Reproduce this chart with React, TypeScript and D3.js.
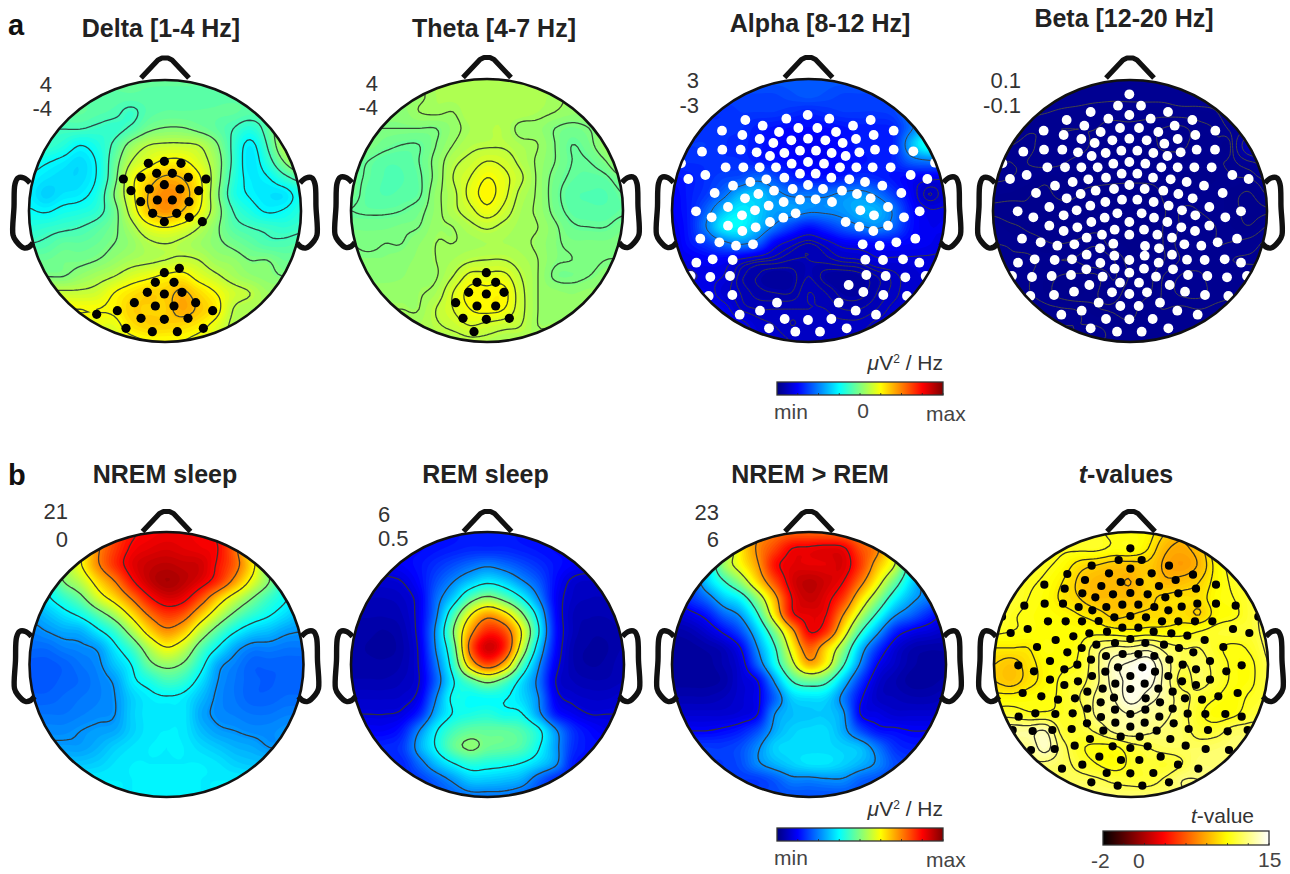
import React from "react";
import * as d3 from "d3";

// ---------- field values on a 17x17 scalp grid (percent of the colour range) ----------
const deltaField = [
[47,47,47,47,47,47,47,47,47,47,47,47,47,47,47,47,47],
[46.5,46.5,46.5,46.5,46.5,46.5,46.5,46.5,46.5,46.5,46.5,46.5,46.5,46.5,46.5,46.5,46.5],
[47,47,47,47,46,45,43,46,47,47,47,47,47,46,46,47,47],
[44,44,44,44,43,42.5,45,49,50.5,50.5,49,47,44,41,46,55,58],
[43,43,41,37.5,40,45,52,56,57,57,56,51,43,36,44,55,60],
[40,38,36,34,38,47,56,60,63,63,59,53,43,35,41,50,57],
[37,35,34,34,38,48,60,66,70,69,63,53,42,36,37,42,46],
[36,33,35,36,40,50,60,69,74,72,64,52,41,37,35,35,40],
[38,37,39,40,42,48,58,68,73,69,62,53,44,40,37,38,41],
[41,42,43,44,46,49,54,60,62,60,56,51,46,44,43,42,43],
[44,45,47,47,48,50,52,55,56,55,53,51,49,47,45,45,46],
[48,48,49,49,50,52,54,55,56,57,56,53,52,50,50,48,48],
[50,50,50,52,54,56,59,61,63,64,60,57,54,52,51,50,50],
[57,57,57,57,58,62,65,67,67,70,66,62,58,56,53,53,53],
[62,62,62,62,62,63,67,67,67,71,68,64,56,54,54,54,54],
[60,60,60,60,60,60,65,67,67,66,64,60,55,55,55,55,55],
[58,58,58,58,58,58,60,62,62,62,60,58,55,55,55,55,55],
];
const thetaField = [
[54,54,54,54,54,54,54,54,54,54,54,54,54,54,54,54,54],
[53,53,53,52,52.5,54,54.5,54.5,54.5,54.5,54.5,54.5,53.5,53,53,53,53],
[51,51,51,51,53,53.5,53,55,55,55,55,54,53,52,52,52,52],
[50,50,50,50,50,50,52,54,55,55,52,52,50,49,50,52,54],
[50,50,48.5,47.5,47.5,50,53,55,55.5,55.5,54,53,50,47.5,49,53,57],
[49,47.5,46,46,47.5,51,55,57,59,58,55,52.5,50,47.5,47.5,50,55],
[48.5,47,45.5,45.5,47,51,56,59,62,60,56.5,52.5,49,47,46.5,47,50],
[48.5,46.5,45.5,46,47,52,55,60,63,60,55,52.5,48.5,46,45.5,45.5,47.5],
[47.5,47,47,47.5,49,52,55,58,61,58,54,52.5,49,46.5,46,46,47],
[49,49,49,49.5,50,52.5,53,55,56.5,55,53.5,53,50.5,48,47.5,47.5,49],
[50,49.5,50,50,51.5,53,53,53.5,54,54,53.5,52.5,50.5,49.5,49.5,49.5,50],
[50.5,50.5,50.5,51,52,53,54,55.5,56,56,54.5,53,50.5,50,49.5,50,50],
[51,51,51,51.5,52.5,52.8,56,60,60,60,56,53,49.5,49.2,50,51,51],
[52.5,52.5,52.5,52.5,52.8,54,59,63,63,63,57,53,52,51.5,52,52,52],
[53,53,53,53,53,56,59,62,63,62,57,53,52,52,52,52,52],
[54,54,54,54,54,55.5,57,59,58,57,56,53,53,53,53,53,53],
[54,54,54,54,54,54,54,55,55,54,54,54,54,54,54,54,54],
];
const alphaField = [
[21,21,21,21,21,21,21,21,21,21,21,21,21,21,21,21,21],
[19,19,19,19,19,19,19,20,21,20,19,19,19,19,20,22,22],
[17,17,17,17,18,18,18,17,16,17,18,18,18,19,24,26,26],
[17,17,17,17,17,15,14,13,13,13,14,15,15,16,24,32,32],
[18,18,18,17,16,15,13,12,11,12,13,15,15,16,30,40,40],
[17,17,17,17,17,15,14,13,12,12,13,14,15,16,22,24,25],
[14,15,17,19,20,23,20,16,14,14,15,17,16,14,12,11,10],
[12,15,18,23,30,32,27,24,24,24,26,27,24,18,12,6,8],
[12,15,22,31,36,33,28,28,26,26,27,30,30,24,14,10,10],
[11,15,25,36,37,31,24,18,14,17,21,24,26,22,14,11,11],
[10,14,18,23,26,22,12,8,6,8,11,12,13,13,12,11,10],
[11,11,12,12,9,7,6,5,5,5.5,6.5,7,9,9,9,9,9],
[9,9,10,9.5,5.5,4,3,3.5,5,3.5,3,3.5,5,6.5,8,8.5,8.5],
[11,11,11,8,6,4.5,4,4,6,5,3.5,3.5,5,6.5,8,8,8],
[12,12,12,11,7,6,6,6,6,6,5,5,6,7.5,8,8,8],
[12,12,12,12,11,8,7,6,6.5,6.5,6.5,6.5,7.5,8,8,8,8],
[12,12,12,12,12,9,8,7,7,7,7,7,8,8,8,8,8],
];
const betaField = [
[1.9,1.9,1.9,1.9,1.9,1.9,1.9,1.9,1.9,1.9,1.9,1.9,1.9,1.9,1.9,1.9,1.9],
[1.9,1.9,1.9,1.9,1.9,1.9,1.88,1.85,1.85,1.85,1.85,1.9,1.9,1.9,1.9,1.9,1.9],
[1.9,1.9,1.85,1.81,1.76,1.72,1.66,1.66,1.68,1.68,1.68,1.7,1.72,1.78,2,2.1,2.1],
[1.8,1.8,1.64,1.62,1.6,1.6,1.6,1.55,1.55,1.5,1.38,1.35,1.5,1.62,1.9,2.4,2.6],
[1.6,1.6,1.56,1.66,1.68,1.66,1.56,1.5,1.5,1.48,1.36,1.36,1.5,1.58,1.82,6,8],
[1.6,1.6,1.6,1.66,1.62,1.55,1.5,1.5,1.5,1.5,1.5,1.5,1.52,1.58,1.7,2.4,3],
[1.62,1.6,1.55,1.45,1.5,1.45,1.45,1.45,1.48,1.5,1.5,1.5,1.45,1.5,1.58,1.62,1.9],
[1.5,1.48,1.42,1.35,1.45,1.4,1.35,1.3,1.18,1.15,1.45,1.5,1.55,1.55,1.45,1.38,1.6],
[1.35,1.3,1.38,1.3,1.3,1.35,1.35,1.25,1.15,1.18,1.38,1.62,1.6,1.55,1.45,1.35,1.38],
[1.58,1.45,1.38,1.35,1.3,1.3,1.35,1.3,1.25,1.2,1.42,1.62,1.65,1.6,1.5,1.42,1.62],
[1.6,1.58,1.5,1.42,1.4,1.45,1.55,1.3,1.22,1.15,1.42,1.68,1.7,1.6,1.62,1.7,1.85],
[1.7,1.62,1.65,1.55,1.6,1.62,1.8,1.62,1.3,1.25,1.4,1.62,1.68,1.62,1.8,1.82,1.82],
[1.7,1.65,1.62,1.5,1.38,1.35,1.35,1.62,1.38,1.3,1.62,1.82,1.85,1.65,1.62,1.68,1.7],
[1.7,1.7,1.62,1.5,1.3,1.22,1.38,1.5,1.3,1.35,1.65,1.85,1.88,1.7,1.65,1.6,1.6],
[1.7,1.7,1.7,1.65,1.62,1.58,1.42,1.38,1.3,1.55,1.6,1.55,1.6,1.55,1.5,1.5,1.5],
[1.6,1.6,1.6,1.6,1.6,1.6,1.6,1.55,1.45,1.55,1.55,1.55,1.55,1.55,1.55,1.55,1.55],
[1.6,1.6,1.6,1.6,1.6,1.6,1.6,1.6,1.6,1.6,1.6,1.6,1.6,1.6,1.6,1.6,1.6],
];
const nremField = [
[70,70,70,70,72,80,86,88,89,89,88,86,78,70,70,70,70],
[62,62,62,62,74,82,88,90,91,90,89,87,77,62,62,62,62],
[55,55,55,62,74,83,90,93,94,93,92,86,78,65,50,50,50],
[40,40,50,56,66,75,86,93,96,94,90,83,72,60,50,40,40],
[30,36,42,48,58,66,76,86,91,89,80,68,58,50,43,38,33],
[28,31,35,39,46,54,65,76,82,79,68,57,48,42,38,34,30],
[25,27,29,30,36,43,54,66,73,68,56,46,38,33,31,28,27],
[23,23,25,26,28,36,44,55,62,57,46,37,29,25,25,24,24],
[21,21,22,24,26,32,38,48,52,49,40,29,25,22,22,22,22],
[21,21,22,23,25,28,36,40,44,42,35,27,24,22,21.5,22,22],
[22,22,23,24,25,27,33,36,37,36,31,26,24,22,22,23,23],
[24,24,24,25,26,27,33,35.5,35.5,35.5,29,26,25,24,24,25,25],
[26,26,26,27,28,29,33,35.5,36,35.5,31,28,27,26,26,27,27],
[28,28,28,28,30,33,35,36,36,36,34,32,30,29,27,27,27],
[32,32,32,32,33,35,36,36,36,36,36,35,33,32,32,32,32],
[36,36,36,36,36,36,36,36.5,36.5,36.5,36,36,36,36,36,36,36],
[36,36,36,36,36,36,36,36.5,36.5,36.5,36,36,36,36,36,36,36],
];
const remField = [
[14,14,14,14,14,14,14,15,15,15,14,14,14,14,14,14,14],
[13,13,13,13,13,14,15,16,16,16,15,14,13,13,13,13,13],
[11,11,11,12,14,17,20,23,25,23,20,17,14,12,11,11,11],
[8,8,8,9,13,20,26,32,36,33,27,21,13,8,7,8,8],
[6,6,6,7,11,23,33,46,52,47,38,26,12,7,6,6,7],
[5,5,5,6,11,25,44,62,72,66,52,34,13,6,5,5,6],
[4,4,3.5,5,11,28,50,72,84,80,62,38,14,6,4,4,5],
[4,3.5,3,4.5,10,27,46,78,92,84,58,33,13,5,3.5,3.5,5],
[4,4,4,5,9.5,24,42,68,80,70,46,27,11,5,3.5,4,6],
[5,5,5,6,9,22,37,46,52,46,35,24,9,6,5,5,6],
[7,7,7,7.5,11,26,39,38,38.5,38,34,26,11,8,7,7,8],
[9,9,9,10,16,30,38,40,41,39,38,28,15,11,9,9,9],
[12,12,12,15,26,37,44,47,47,47,45,39,27,17,13,11,11],
[16,16,16,18,29,38,47,51,48,47,45,38,28,17,14,14,14],
[16,16,16,16,23,31,37,41,40,39,37,33,27,15,14,14,14],
[16,16,16,16,18,22,27,32,32,31,29,22,16,15,14,14,14],
[18,18,18,18,18,20,22,24,24,24,22,20,18,18,18,18,18],
];
const diffField = [
[62,62,62,62,66,72,76,78,78,78,77,74,68,62,62,62,62],
[50,50,50,50,64,74,81,88,89,90,89,80,74,60,50,50,50],
[35,35,35,52,62,72,86,90,90,90,91,82,69,58,40,40,40],
[20,20,32,42,52,66,80,91,94,92,88,76,62,48,34,25,25],
[12,17,23,32,38,52,70,88,93,90,82,66,52,38,29,24,18],
[8,10,14,22,28,42,64,86,90,88,73,56,41,28,22,16,11],
[4,5,8,13,20,33,50,70,88,83,64,44,29,16,11,9,7],
[3,3,4,6,12,27,42,62,78,67,52,32,18,9,5,4,4],
[3,3,3,5,9,22,38,55,70,62,44,26,12,7,4,3,3],
[3,3,3,4,8,12,28,43,48,45,32,18,8,5,3,3,4],
[5,5,5,6,8,11,22,33,35,34,25,13,7,6,5,5,6],
[8,8,8,8,9,12,27,31,32,32,28,12,10,8,8,8,8],
[12,12,12,13,15,20,29,33,34,34,29,20,14,13,12,12,12],
[18,18,18,18,20,26,33,34,34,34,33,31,24,17,15,15,15],
[18,18,18,18,20,26,30,33,35,35,33,30,26,20,18,18,18],
[18,18,18,18,18,18,21,25,25,26,26,22,20,18,18,18,18],
[20,20,20,20,20,20,20,20,20,20,20,20,20,20,20,20,20],
];
const tField = [
[80,80,80,80,80,80,78,76,76,74,68,64,70,76,80,80,80],
[80,80,80,80,78,78,78,76,76,72,64,62,66,76,80,80,80],
[80,80,80,78,75,70,68,66,66,67,62,60,64,74,79,80,80],
[80,80,78,76,72,67,64,64,63,68,64,65,68,74,78,80,80],
[80,80,77,75,71,68,65,65,65,67,69,70,70,75,77,80,82],
[82,78,76,75,74,72,70,67,68,69,69,70,68,74,76,80,84],
[78,77,76,75,75,75,75,74,73,74,74,75,77,79,80,80,84],
[72,72,72,76,75,77,85,88,88,90,85,82,82,78,76,78,83],
[68,66,70,74,76,78,86,94,97,99,90,82,84,80,76,76,82],
[68,66,70,74,78,80,86,94,97,98,90,80,84,80,76,76,82],
[74,74,75,76,78,82,88,92,98,94,90,84,80,77,75,78,80],
[80,80,78,78,78,80,88,90,92,90,88,84,78,75,76,80,80],
[90,90,90,92,80,80,83,88,90,88,86,84,80,80,84,84,84],
[88,88,88,94,84,78,76,76,80,82,84,84,84,85,86,86,86],
[86,86,86,86,84,80,77,75,78,80,79,82,86,86,86,86,86],
[84,84,84,84,84,84,83,81,80,80,83,87,87,87,87,87,87],
[86,86,86,86,86,86,86,86,86,86,86,86,86,86,86,86,86],
];

// ---------- contour levels ----------
const deltaLevels = [37.5, 44, 50, 56, 62, 69];
const thetaLevels = [47.5, 50, 53, 56, 59, 62];
const alphaLevels = [4, 5, 6, 7, 9.5, 25];
const betaLevels = [1.4, 1.6, 1.8, 2.5, 4];
const nremLevels = [27, 37.5, 50, 62.5, 75, 87];
const remLevels = [9, 26, 37.5, 50, 62.5, 75];
const diffLevels = [12, 27, 43, 58, 73, 88];
const tLevels = [63, 68, 72, 77, 82, 87, 92, 96];

// ---------- electrodes, read in a 3x reading frame of each panel ----------
const deltaDots = [[445,490],[493,484],[543,490],[470,520],[517,520],[423,532],[565,532],[370,537],[618,537],[448,567],[493,554],[540,567],[393,572],[596,572],[472,600],[517,600],[422,605],[567,605],[458,640],[530,640],[568,652],[607,665],[493,665],[538,805],[493,818],[466,847],[522,847],[442,877],[493,882],[546,877],[403,908],[466,918],[522,918],[587,908],[352,932],[290,943],[638,932],[423,955],[493,958],[564,955],[378,985],[457,995],[532,995],[610,985]];
const thetaDots = [[484,818],[456,847],[512,847],[431,877],[484,882],[537,877],[392,908],[456,918],[512,918],[414,955],[484,958],[553,955],[447,995]];
const alphaDots = [[473,345],[409,356],[538,356],[286,360],[662,360],[338,377],[445,384],[502,384],[609,377],[216,392],[387,396],[558,396],[731,392],[277,405],[671,405],[329,417],[474,416],[526,421],[618,417],[370,429],[424,421],[578,429],[156,455],[217,449],[272,449],[320,457],[403,459],[450,452],[498,452],[545,459],[628,457],[675,449],[731,449],[790,454],[360,468],[587,468],[425,491],[474,486],[522,491],[378,502],[570,502],[329,502],[619,502],[227,502],[280,502],[668,502],[722,502],[93,490],[855,488],[166,525],[115,537],[403,533],[450,521],[497,521],[544,533],[782,525],[832,537],[349,538],[598,538],[301,546],[645,546],[249,557],[697,557],[474,555],[428,567],[519,567],[372,572],[576,572],[194,579],[754,579],[325,582],[621,582],[285,595],[662,595],[450,599],[497,598],[546,606],[401,606],[234,621],[714,621],[356,617],[315,631],[631,631],[138,634],[809,634],[276,646],[672,646],[437,640],[400,653],[185,652],[762,652],[360,666],[587,666],[234,677],[714,677],[317,682],[628,680],[277,693],[670,693],[151,716],[796,716],[208,727],[739,727],[309,733],[638,733],[258,737],[689,737],[139,788],[188,778],[248,780],[646,779],[699,780],[759,778],[808,788],[122,828],[181,831],[240,828],[649,825],[707,828],[766,832],[827,828],[596,855],[176,888],[247,885],[640,876],[700,885],[771,888],[381,908],[566,908],[330,932],[617,932],[269,944],[678,944],[404,957],[474,960],[544,957],[357,985],[436,995],[510,995],[590,985]];
const betaDots = [[508,283],[474,317],[543,317],[392,336],[624,336],[508,345],[445,356],[572,356],[320,360],[697,360],[373,377],[644,377],[480,384],[537,384],[251,392],[422,396],[595,396],[766,392],[311,405],[706,405],[364,417],[653,417],[457,421],[508,416],[560,421],[404,429],[613,431],[190,455],[252,449],[307,449],[354,457],[395,468],[437,459],[484,452],[532,452],[580,459],[622,468],[662,457],[710,449],[765,449],[127,490],[460,491],[508,486],[556,491],[413,502],[604,502],[262,502],[315,502],[364,502],[653,502],[703,502],[755,502],[150,537],[200,525],[485,521],[532,521],[438,533],[579,533],[385,538],[632,538],[338,546],[680,546],[817,525],[866,537],[285,557],[732,557],[508,555],[462,567],[554,567],[407,572],[610,572],[228,579],[788,579],[362,582],[655,582],[320,595],[698,595],[486,599],[532,599],[436,606],[581,606],[268,621],[748,621],[391,617],[626,617],[350,631],[666,631],[173,634],[843,634],[311,646],[706,646],[472,640],[545,640],[434,653],[582,653],[220,652],[796,652],[394,666],[622,666],[268,677],[748,677],[352,682],[664,682],[508,666],[464,689],[552,689],[311,693],[705,693],[592,704],[508,704],[426,704],[380,713],[636,713],[186,716],[831,716],[242,727],[773,727],[343,733],[673,733],[292,737],[724,737],[460,731],[555,738],[420,745],[597,745],[380,764],[636,764],[463,767],[554,767],[508,780],[174,788],[224,778],[284,780],[336,778],[681,779],[734,780],[794,778],[843,788],[596,788],[421,789],[379,808],[639,808],[464,806],[552,806],[508,818],[156,828],[216,831],[275,828],[333,825],[428,830],[588,830],[684,825],[742,828],[801,832],[861,828],[480,848],[537,848],[388,855],[629,855],[342,875],[675,875],[211,888],[282,885],[456,877],[508,882],[561,877],[735,885],[805,888],[416,908],[600,908],[481,918],[536,918],[365,932],[652,932],[304,944],[713,944],[438,957],[508,958],[578,957],[392,985],[471,995],[545,995],[625,985]];
const tDots = [[511,295],[476,330],[545,330],[395,347],[627,347],[511,356],[447,370],[575,370],[322,372],[699,374],[375,390],[647,390],[482,396],[539,396],[253,404],[424,408],[597,408],[768,404],[314,416],[708,416],[367,430],[655,430],[459,433],[511,429],[563,433],[406,442],[616,442],[193,467],[254,461],[309,461],[356,471],[397,481],[439,471],[487,464],[535,464],[583,471],[625,481],[665,470],[712,461],[768,461],[827,467],[126,500],[463,502],[511,498],[558,502],[416,513],[606,514],[264,514],[317,514],[366,514],[655,514],[705,514],[757,514],[895,500],[152,549],[203,537],[487,533],[535,533],[441,545],[581,545],[388,550],[634,550],[340,559],[682,557],[819,537],[868,549],[287,570],[734,570],[511,567],[465,579],[556,579],[409,584],[612,584],[231,591],[790,591],[365,594],[657,594],[322,607],[700,607],[488,612],[535,612],[438,618],[583,618],[270,633],[750,633],[393,629],[628,629],[352,644],[668,644],[175,646],[845,646],[313,658],[708,658],[474,652],[547,652],[436,665],[585,665],[222,664],[799,664],[396,678],[625,678],[270,689],[750,689],[354,694],[666,694],[511,678],[466,701],[554,701],[313,705],[708,705],[595,716],[511,717],[428,716],[382,725],[638,725],[188,729],[833,729],[244,739],[775,739],[345,745],[675,745],[294,749],[726,749],[462,743],[557,745],[422,757],[600,757],[382,776],[638,776],[465,779],[556,779],[511,792],[176,800],[226,790],[286,792],[338,790],[683,791],[736,792],[796,792],[845,800],[598,800],[423,801],[381,820],[641,820],[466,818],[554,818],[511,830],[158,840],[218,843],[277,840],[335,837],[430,842],[590,842],[686,837],[744,840],[803,844],[863,840],[482,860],[539,860],[390,867],[631,867],[344,887],[677,887],[213,900],[284,897],[458,889],[511,894],[563,889],[737,897],[807,900],[418,920],[602,920],[483,930],[538,930],[367,944],[654,944],[306,956],[715,956],[440,969],[511,970],[580,969],[394,997],[473,1007],[547,1007],[627,997]];

// ---------- colour maps ----------
const jetStops = [0, 12.5, 37.5, 62.5, 87.5, 100];
const jetColors = ["#00007f", "#0000ff", "#00ffff", "#ffff00", "#ff0000", "#7f0000"];
const hotStops = [0, 36.5, 74.6, 100];
const hotColors = ["#000000", "#ff0000", "#ffff00", "#ffffff"];
const jet = d3.scaleLinear<string>().domain(jetStops).range(jetColors).clamp(true);
const hot = d3.scaleLinear<string>().domain(hotStops).range(hotColors).clamp(true);

// ---------- panel placement ----------
const panelCx = [165, 487, 808.5, 1130, 166.5, 487.5, 809, 1131];
const panelCy = [211, 210.5, 210.5, 211, 664.5, 664.5, 664.5, 664.5];
const panelRx = [136, 136, 136.5, 137, 137, 136.5, 137, 137];
const panelRy = [131, 131.5, 131.5, 131, 132.5, 132.5, 132.5, 132.5];
const frameX = [0, 325, 650, 960, 0, 325, 650, 960];
const frameY = [0, 0, 0, 0, 450, 450, 450, 450];
const fields = [deltaField, thetaField, alphaField, betaField, nremField, remField, diffField, tField];
const levelSets = [deltaLevels, thetaLevels, alphaLevels, betaLevels, nremLevels, remLevels, diffLevels, tLevels];
const dotSets = [deltaDots, thetaDots, alphaDots, betaDots, [], [], [], tDots];
const dotColors = ["#000", "#000", "#fff", "#fff", "#000", "#000", "#000", "#000"];
const dotRadii = [4.6, 4.6, 4.9, 4.9, 4, 4, 4, 4.1];
const lineColors = ["#2b3a3a", "#2b3a2b", "#3c3c3c", "#4a4a3e", "#333", "#333", "#333", "#222"];
const titles = ["Delta [1-4 Hz]", "Theta [4-7 Hz]", "Alpha [8-12 Hz]", "Beta [12-20 Hz]", "NREM sleep", "REM sleep", "NREM > REM", "-values"];
const titleX = [161, 494, 820, 1124, 165, 485.5, 810, 1126];
const titleY = [37, 37, 32, 27, 483, 483, 483, 483];
const earLeft: [number, number][] = [[-135,-28],[-141,-33],[-147,-33],[-150,-27],[-151,-4],[-152,24],[-149,30],[-141,37],[-136,36],[-132,32]];
const nose: [number, number][] = [[-24,-133],[-7,-151],[-3,-153],[3,-153],[7,-151],[24,-133]];

const UP = 6;
const catmull = (a: number, b: number, c: number, d: number, t: number) =>
  0.5 * (2 * b + (c - a) * t + (2 * a - 5 * b + 4 * c - d) * t * t + (3 * b - a - 3 * c + d) * t * t * t);

function refine(rows: number[][]) {
  const n = rows.length;
  const N = (n - 1) * UP + 1;
  const at = (i: number, j: number) => rows[Math.max(0, Math.min(n - 1, j))][Math.max(0, Math.min(n - 1, i))];
  const values = new Float64Array(N * N);
  for (let y = 0; y < N; y++) {
    const jf = y / UP, j = Math.min(n - 2, Math.floor(jf)), v = jf - j;
    for (let x = 0; x < N; x++) {
      const xf = x / UP, i = Math.min(n - 2, Math.floor(xf)), u = xf - i;
      const col = [-1, 0, 1, 2].map((dj) =>
        catmull(at(i - 1, j + dj), at(i, j + dj), at(i + 1, j + dj), at(i + 2, j + dj), u));
      values[y * N + x] = catmull(col[0], col[1], col[2], col[3], v);
    }
  }
  return { values, N };
}

function Topo({ idx }: { idx: number }) {
  const cx = panelCx[idx], cy = panelCy[idx], rx = panelRx[idx], ry = panelRy[idx];
  const { values, N } = refine(fields[idx]);
  const sx = d3.scaleLinear().domain([0.5, N - 0.5]).range([cx - rx, cx + rx]);
  const sy = d3.scaleLinear().domain([0.5, N - 0.5]).range([cy - ry, cy + ry]);
  const path = d3.geoPath(d3.geoTransform({
    point(this: any, x: number, y: number) { this.stream.point(sx(x), sy(y)); },
  }));
  const color = idx === 7 ? hot : jet;
  const lo = d3.min(values as any) as number, hi = d3.max(values as any) as number;
  const step = idx === 3 ? 0.25 : 1.2;
  const bands = d3.range(Math.floor(lo / step) * step, hi + step, step);
  const gen = d3.contours().size([N, N]);
  const fills = bands.map((t) => ({ t, d: path(gen.contour(values as any, t) as any) || "" }));
  const lines = levelSets[idx].map((t) => ({ t, d: path(gen.contour(values as any, t) as any) || "" }));
  const dX = d3.scaleLinear().domain([0, 990]).range([frameX[idx], frameX[idx] + 330]);
  const dY = d3.scaleLinear().domain([0, 1080]).range([frameY[idx], frameY[idx] + 360]);
  const clip = `clip-${idx}`;
  const earCurve = d3.line().curve(d3.curveCatmullRom.alpha(0.5));
  const noseCurve = d3.line();
  const earPts = earLeft.map(([a, b]) => [cx + a, cy + b] as [number, number]);
  const earMirror = earLeft.map(([a, b]) => [cx - a, cy + b] as [number, number]);
  const nosePts = nose.map(([a, b]) => [cx + a, cy + b] as [number, number]);
  return (
    <g>
      <clipPath id={clip}><ellipse cx={cx} cy={cy} rx={rx} ry={ry} /></clipPath>
      <g clipPath={`url(#${clip})`}>
        <rect x={cx - rx} y={cy - ry} width={2 * rx} height={2 * ry} fill={color(lo)} />
        {fills.map((f) => <path key={f.t} d={f.d} fill={color(f.t + step / 2)} />)}
        {lines.map((l) => <path key={l.t} d={l.d} fill="none" stroke={lineColors[idx]} strokeWidth={idx === 2 || idx === 3 ? 1 : 1.3} strokeOpacity={0.9} />)}
        {dotSets[idx].map(([x, y], i) => <circle key={i} cx={dX(x)} cy={dY(y)} r={dotRadii[idx]} fill={dotColors[idx]} />)}
      </g>
      <ellipse cx={cx} cy={cy} rx={rx} ry={ry} fill="none" stroke="#111" strokeWidth={2.6} />
      <path d={noseCurve(nosePts) || ""} fill="none" stroke="#111" strokeWidth={5.2} strokeLinejoin="round" />
      <path d={earCurve(earPts) || ""} fill="none" stroke="#111" strokeWidth={5.4} />
      <path d={earCurve(earMirror) || ""} fill="none" stroke="#111" strokeWidth={5.4} />
    </g>
  );
}

function Colorbar({ id, x0, x1, y0, y1, color }: { id: string; x0: number; x1: number; y0: number; y1: number; color: any }) {
  const sc = d3.scaleLinear().domain([0, 100]).range([x0, x1]);
  const stops = d3.range(0, 100.01, 100 / 64);
  const ticks = d3.range(1, 9).map((k) => k * 12.5);
  return (
    <g>
      <linearGradient id={id}>
        {stops.map((c) => <stop key={c} offset={`${c}%`} stopColor={color(c)} />)}
      </linearGradient>
      <rect x={x0} y={y0} width={x1 - x0} height={y1 - y0} fill={`url(#${id})`} />
      {ticks.map((t) => <line key={t} x1={sc(t)} x2={sc(t)} y1={y1 - 2} y2={y1} stroke="#222" strokeWidth={0.8} />)}
      <rect x={x0} y={y0} width={x1 - x0} height={y1 - y0} fill="none" stroke="#333" strokeWidth={1.3} />
    </g>
  );
}

const rangeLabels: [string, number, number, "end" | "start"][] = [
  ["4", 52, 91.5, "end"], ["-4", 52, 116, "end"],
  ["4", 378, 90.5, "end"], ["-4", 378, 115, "end"],
  ["3", 699, 88, "end"], ["-3", 699, 113, "end"],
  ["0.1", 1021, 88, "end"], ["-0.1", 1021, 113, "end"],
  ["21", 68, 519, "end"], ["0", 68, 547, "end"],
  ["6", 378, 521.5, "start"], ["0.5", 378, 546, "start"],
  ["23", 719, 520, "end"], ["6", 719, 547, "end"],
];

export default function App() {
  const font = "'Liberation Sans', Arial, sans-serif";
  const unit = (y: number) => (
    <text x={943} y={y} textAnchor="end" fontSize={21} fill="#333">
      <tspan fontStyle="italic">μ</tspan>V<tspan fontSize={12} dy={-7}>2</tspan><tspan dy={7}> / Hz</tspan>
    </text>
  );
  return (
    <svg width={1290} height={874} viewBox="0 0 1290 874" fontFamily={font}
      style={{ position: "absolute", left: 0, top: 0, background: "#fff" }}>
      {panelCx.map((_, i) => <Topo key={i} idx={i} />)}
      {titles.map((t, i) => (
        <text key={i} x={titleX[i]} y={titleY[i]} textAnchor="middle" fontWeight="bold" fontSize={25} fill="#222">
          {i === 7 ? <tspan fontStyle="italic">t</tspan> : null}{t}
        </text>
      ))}
      <text x={8} y={35} fontWeight="bold" fontSize={29} fill="#111">a</text>
      <text x={8} y={485} fontWeight="bold" fontSize={29} fill="#111">b</text>
      {rangeLabels.map(([t, x, y, a], i) => (
        <text key={i} x={x} y={y} textAnchor={a} fontSize={22} fill="#333">{t}</text>
      ))}
      {unit(370)}
      <Colorbar id="barA" x0={777} x1={943} y0={382} y1={395} color={jet} />
      <text x={774} y={419} fontSize={21} fill="#444">min</text>
      <text x={863} y={418} fontSize={21} fill="#444" textAnchor="middle">0</text>
      <text x={926} y={421} fontSize={21} fill="#444">max</text>
      {unit(816)}
      <Colorbar id="barB" x0={777} x1={943} y0={828} y1={841} color={jet} />
      <text x={774} y={865} fontSize={21} fill="#444">min</text>
      <text x={926} y={867} fontSize={21} fill="#444">max</text>
      <text x={1254} y={823} textAnchor="end" fontSize={21} fill="#333"><tspan fontStyle="italic">t</tspan>-value</text>
      <Colorbar id="barT" x0={1103} x1={1269} y0={831} y1={845} color={hot} />
      <text x={1091} y={868} fontSize={21} fill="#444">-2</text>
      <text x={1133} y={868} fontSize={21} fill="#444">0</text>
      <text x={1258} y={867} fontSize={21} fill="#444">15</text>
    </svg>
  );
}
